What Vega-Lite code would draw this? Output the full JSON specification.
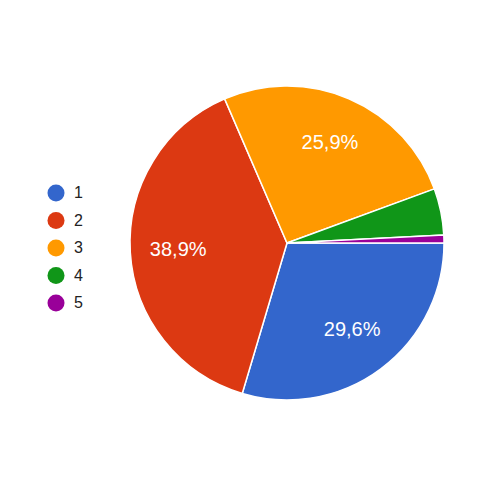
{
  "$schema": "https://vega.github.io/schema/vega-lite/v6.json",
  "width": 314,
  "height": 314,
  "autosize": {"type": "none"},
  "padding": {"left": 130, "top": 86, "right": 56, "bottom": 100},
  "background": "white",
  "config": {
    "view": {"stroke": null},
    "locale": {"number": {"decimal": ",", "thousands": ".", "grouping": [3], "currency": ["", " €"]}},
    "font": "Liberation Sans"
  },
  "data": {
    "values": [
      {"option": "1", "share": 0.296},
      {"option": "2", "share": 0.389},
      {"option": "3", "share": 0.259},
      {"option": "4", "share": 0.048},
      {"option": "5", "share": 0.008}
    ]
  },
  "encoding": {
    "theta": {"field": "share", "type": "quantitative", "stack": true, "scale": {"range": [1.5707963, 7.8539816]}},
    "order": {"field": "option", "type": "ordinal"}
  },
  "layer": [
    {
      "mark": {"type": "arc", "outerRadius": 157, "stroke": "white", "strokeWidth": 1.5},
      "encoding": {
        "color": {
          "field": "option",
          "type": "nominal",
          "scale": {"domain": ["1", "2", "3", "4", "5"], "range": ["#3366cc", "#dc3912", "#ff9900", "#109618", "#990099"]},
          "legend": {
            "title": null,
            "orient": "none",
            "legendX": -83,
            "legendY": 98,
            "symbolType": "circle",
            "symbolSize": 290,
            "symbolStrokeWidth": 0,
            "symbolOpacity": 1,
            "labelFontSize": 16,
            "labelColor": "#222222",
            "labelOffset": 9,
            "rowPadding": 9.5,
            "labelFont": "Liberation Sans"
          }
        }
      }
    },
    {
      "transform": [{"filter": "datum.share > 0.1"}],
      "mark": {"type": "text", "radius": 109, "color": "white", "fontSize": 20, "font": "Liberation Sans"},
      "encoding": {
        "text": {"field": "share", "type": "quantitative", "format": ".1%"}
      }
    }
  ]
}
